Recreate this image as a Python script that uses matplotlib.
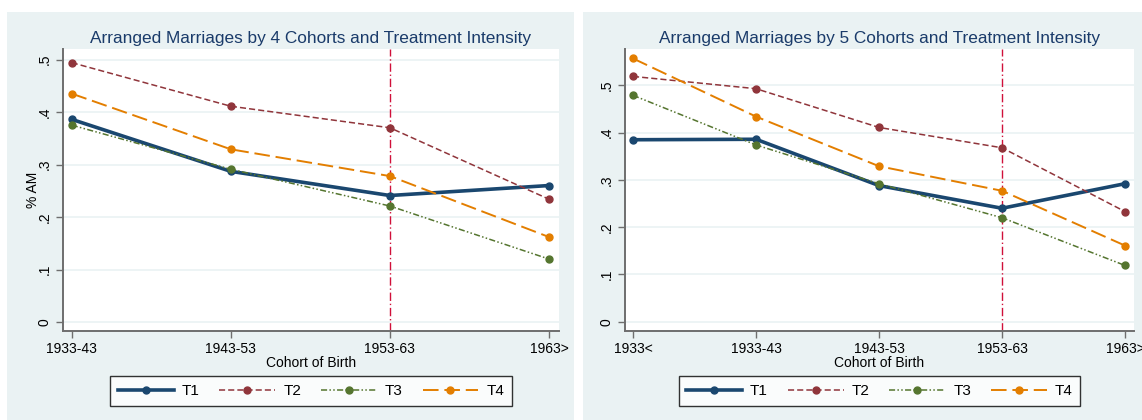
import numpy as np
import matplotlib
matplotlib.use("Agg")
from matplotlib import pyplot as plt
from matplotlib.patches import Rectangle

plt.rcParams['font.family'] = ['Liberation Sans', 'DejaVu Sans']

# panel 1: 4 cohorts
cohorts4 = ["1933-43", "1943-53", "1953-63", "1963>"]
t1_4 = [0.386, 0.287, 0.241, 0.260]
t2_4 = [0.494, 0.411, 0.370, 0.234]
t3_4 = [0.375, 0.291, 0.221, 0.120]
t4_4 = [0.435, 0.329, 0.278, 0.162]

# panel 2: 5 cohorts
cohorts5 = ["1933<", "1933-43", "1943-53", "1953-63", "1963>"]
t1_5 = [0.385, 0.386, 0.288, 0.240, 0.292]
t2_5 = [0.519, 0.493, 0.411, 0.368, 0.233]
t3_5 = [0.479, 0.374, 0.292, 0.220, 0.119]
t4_5 = [0.557, 0.434, 0.329, 0.277, 0.161]

yticks = [0, 0.1, 0.2, 0.3, 0.4, 0.5]
ytick_labels = ["0", ".1", ".2", ".3", ".4", ".5"]

bg = "#EAF2F3"
title_col = "#1A3B6A"
styles = {
    "T1": dict(color="#1A476F", lw=2.6, ls="-"),
    "T2": dict(color="#90353B", lw=1.1, ls=(0, (4, 2))),
    "T3": dict(color="#55752F", lw=1.1, ls=(0, (4, 1.5, 1, 1.5, 1, 1.5))),
    "T4": dict(color="#E37E00", lw=1.4, ls=(0, (8, 3))),
}

fig = plt.figure(figsize=(11.42, 4.2), dpi=100)
fig.patches.append(Rectangle((7/1142, 0), 567/1142, 408/420, transform=fig.transFigure,
                             facecolor=bg, edgecolor="none", zorder=-10))
fig.patches.append(Rectangle((583/1142, 0), 570/1142, 408/420, transform=fig.transFigure,
                             facecolor=bg, edgecolor="none", zorder=-10))


def panel(rect, cats, series, title, ylim, xpad, redline, ylabel):
    ax = fig.add_axes(rect)
    x = np.arange(len(cats))
    for name, vals in series:
        st = styles[name]
        ax.plot(x, vals, color=st["color"], lw=st["lw"], linestyle=st["ls"],
                marker="o", markersize=5, label=name, zorder=3)
    ax.axvline(redline, color="#D0103A", lw=1.0, linestyle=(0, (6, 2, 1, 2)), zorder=2)
    ax.set_xlim(-xpad[0], len(cats) - 1 + xpad[1])
    ax.set_ylim(*ylim)
    ax.set_xticks(x)
    ax.set_xticklabels(cats, fontsize=10)
    ax.set_yticks(yticks)
    ax.set_yticklabels(ytick_labels, fontsize=10, rotation=90, va="center")
    ax.grid(axis="y", color=bg, lw=1.2, zorder=0)
    ax.set_axisbelow(True)
    for s in ["top", "right"]:
        ax.spines[s].set_visible(False)
    for s in ["left", "bottom"]:
        ax.spines[s].set_color("#6E6E6E")
        ax.spines[s].set_linewidth(1.4)
    ax.tick_params(axis="both", direction="out", length=5, width=1.0, color="#6E6E6E", pad=3)
    ax.set_xlabel("Cohort of Birth", fontsize=10, labelpad=0)
    if ylabel:
        ax.set_ylabel(ylabel, fontsize=10, labelpad=-1.5)
    ax.set_title(title, fontsize=12.4, color=title_col, pad=4)
    cx = rect[0] + rect[2] / 2
    leg = ax.legend(loc="center", bbox_to_anchor=(cx, 1 - 391/420), bbox_transform=fig.transFigure,
                    ncol=4, fontsize=11, frameon=True, fancybox=False, edgecolor="black",
                    handlelength=3.66, handletextpad=0.52, columnspacing=1.3,
                    borderpad=0.5, borderaxespad=0, numpoints=1)
    leg.get_frame().set_linewidth(1.0)
    return ax


panel([63/1142, 1 - 331/420, 496/1142, 282/420], cohorts4,
      [("T1", t1_4), ("T2", t2_4), ("T3", t3_4), ("T4", t4_4)],
      "Arranged Marriages by 4 Cohorts and Treatment Intensity",
      (-0.017, 0.52), (0.055, 0.063), 2, "% AM")
panel([625/1142, 1 - 331/420, 509/1142, 282/420], cohorts5,
      [("T1", t1_5), ("T2", t2_5), ("T3", t3_5), ("T4", t4_5)],
      "Arranged Marriages by 5 Cohorts and Treatment Intensity",
      (-0.0197, 0.577), (0.065, 0.073), 3, None)

fig.savefig("out.png", dpi=100)
